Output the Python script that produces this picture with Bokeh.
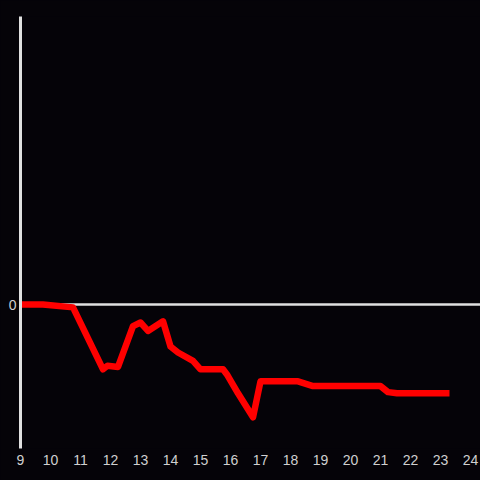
from bokeh.plotting import figure
from bokeh.models import FixedTicker, Range1d, GlobalInlineStyleSheet
from bokeh.embed import file_html
from bokeh.resources import INLINE

hours = [9.0, 9.75, 10.75, 11.75, 11.9, 12.25, 12.75, 13.0, 13.25, 13.75, 14.0,
         14.25, 14.75, 15.0, 15.75, 15.9, 16.25, 16.75, 17.0, 18.25, 18.75,
         21.0, 21.25, 21.55, 23.3]
change = [0.0, 0.0, -0.12, -2.7, -2.55, -2.6, -0.9, -0.75, -1.1, -0.7, -1.75,
          -2.0, -2.35, -2.7, -2.7, -2.95, -3.7, -4.7, -3.2, -3.2, -3.4,
          -3.4, -3.65, -3.7, -3.7]
x_ticks = list(range(9, 25))
y_ticks = [0]

bg = "#050308"
p = figure(width=480, height=480, output_backend="svg", toolbar_location=None,
           x_range=Range1d(9, 24.333), y_range=Range1d(-6, 12),
           min_border_left=20, min_border_right=0, min_border_top=16,
           min_border_bottom=32)
p.stylesheets = [GlobalInlineStyleSheet(css="html, body { margin: 0; padding: 0; background: %s; overflow: hidden; }" % bg)]
p.background_fill_color = bg
p.border_fill_color = bg
p.outline_line_color = None

p.line(hours, change, line_color="#ff0000", line_width=6.5, line_join="round")

p.xaxis.ticker = FixedTicker(ticks=x_ticks)
p.yaxis.ticker = FixedTicker(ticks=y_ticks)
p.xgrid.grid_line_color = None
p.ygrid.ticker = FixedTicker(ticks=y_ticks)
p.ygrid.grid_line_color = "#e0e0e0"
p.ygrid.grid_line_width = 2.5
p.ygrid.level = "underlay"

for ax in (p.xaxis, p.yaxis):
    ax.major_tick_line_color = None
    ax.minor_tick_line_color = None
    ax.major_tick_out = 0
    ax.major_tick_in = 0
    ax.major_label_text_color = "#d0d0d0"
    ax.major_label_text_font = "Liberation Sans"
    ax.major_label_text_font_size = "14px"
p.xaxis.axis_line_color = None
p.xaxis.major_label_standoff = 6
p.yaxis.axis_line_color = "#e0e0e0"
p.yaxis.axis_line_width = 3
p.yaxis.major_label_standoff = 4

open("out.html", "w").write(file_html(p, INLINE))
